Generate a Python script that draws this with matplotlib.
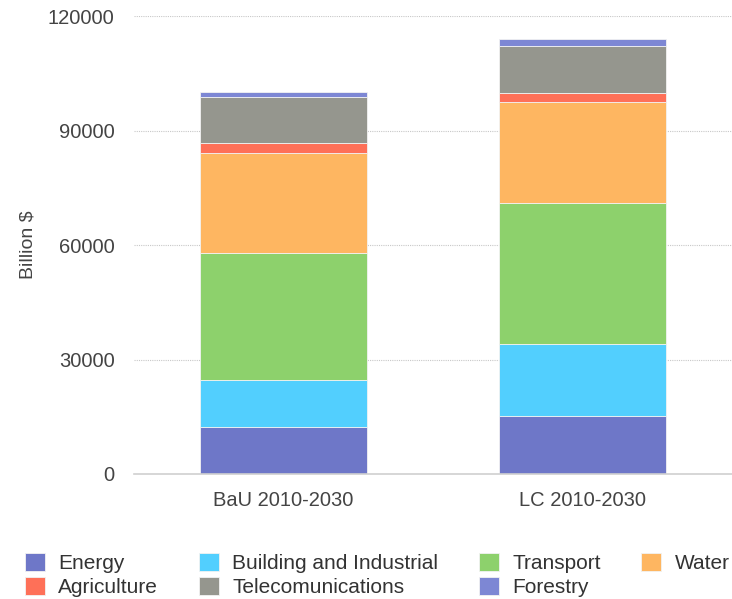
import matplotlib
matplotlib.use("Agg")
import matplotlib.pyplot as plt
import numpy as np

# data (billion $)
scenarios = ["BaU 2010-2030", "LC 2010-2030"]
sectors = ["Energy", "Building and Industrial", "Transport", "Water",
           "Agriculture", "Telecomunications", "Forestry"]
energy = [12200, 15100]
building = [12400, 19000]
transport = [33200, 36900]
water = [26400, 26500]
agriculture = [2600, 2400]
telecom = [12000, 12200]
forestry = [1300, 2000]

colors = ["#6e77c8", "#52cffe", "#8dd16c", "#feb661",
          "#fe7058", "#95968e", "#7d87d4"]

plt.rcParams["font.family"] = ["Liberation Sans", "DejaVu Sans"]

fig = plt.figure(figsize=(7.32, 5.99), dpi=100)
ax = fig.add_axes([0.183, 0.2087, 0.817, 0.7643])

x = np.arange(len(scenarios))
series = [energy, building, transport, water, agriculture, telecom, forestry]
bottom = np.zeros(len(scenarios))
handles = []
for name, vals, col in zip(sectors, series, colors):
    b = ax.bar(x, vals, width=0.56, bottom=bottom, color=col,
               edgecolor="#f2f2f2", linewidth=0.6, label=name, zorder=2)
    handles.append(b)
    bottom += np.array(vals)

ax.set_xlim(-0.5, 1.5)
ax.set_ylim(0, 120000)
ax.set_yticks([0, 30000, 60000, 90000, 120000])
ax.set_xticks(x)
ax.set_xticklabels(scenarios)
ax.tick_params(axis="both", length=0, labelsize=14.5, colors="#444444")
ax.tick_params(axis="y", pad=14)
ax.tick_params(axis="x", pad=12)
ax.set_ylabel("Billion $", fontsize=14, color="#444444", labelpad=8)

ax.yaxis.grid(True, linestyle=(0, (1, 1)), color="#c8c8c8", linewidth=0.8, zorder=0)
ax.set_axisbelow(True)
for s in ["top", "right", "left"]:
    ax.spines[s].set_visible(False)
ax.spines["bottom"].set_color("#d0d0d0")
ax.spines["bottom"].set_linewidth(1.2)

# legend: column-wise fill, so reorder to get the row layout
order = [0, 4, 1, 5, 2, 6, 3]
fig.legend([handles[i] for i in order], [sectors[i] for i in order],
           loc="lower left", bbox_to_anchor=(0.008, -0.028), ncol=4,
           frameon=False, fontsize=15, handlelength=0.96, handleheight=0.95,
           handletextpad=0.65, columnspacing=1.95, labelspacing=0.2,
           labelcolor="#333333")

fig.savefig("out.png", dpi=100)
